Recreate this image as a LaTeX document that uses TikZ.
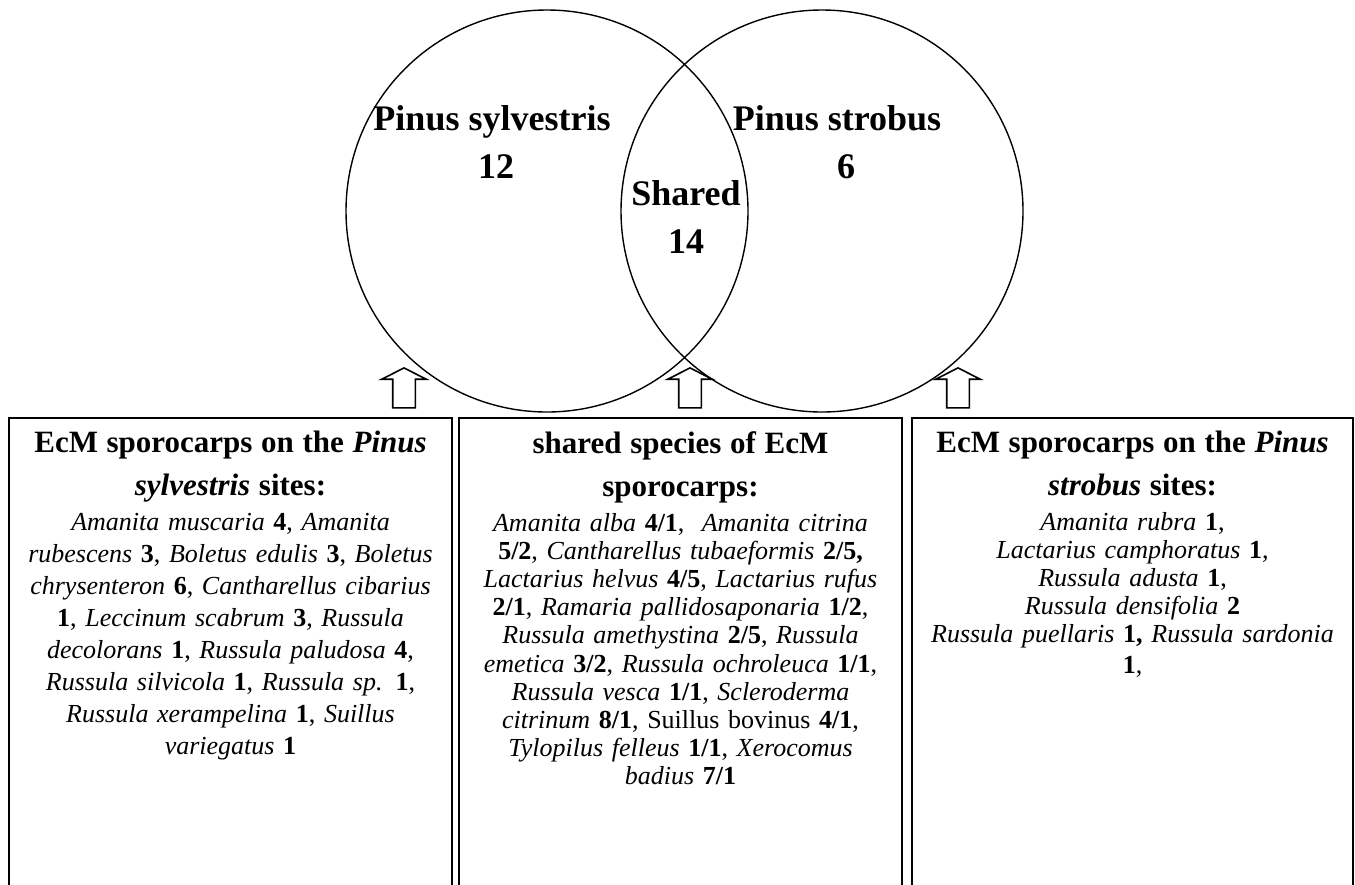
\documentclass[tikz,border=0pt]{standalone}
\usepackage{fontspec}
\setmainfont{Liberation Serif}
\usetikzlibrary{positioning,shapes.arrows}

\tikzset{
  venn/.style={draw, circle, minimum size=402pt, line width=1.4pt},
  vlabel/.style={font=\fontsize{36}{36}\selectfont\bfseries, inner sep=0pt, anchor=base},
  listbox/.style={draw, line width=1.6pt, anchor=north, minimum height=520pt, inner sep=0pt},
  listtext/.style={inner sep=0pt, align=center, text width=430pt, anchor=north},
  uparrow/.style={draw, single arrow, shape border rotate=90, line width=1.6pt,
    minimum height=40pt, minimum width=43pt, single arrow head extend=11pt,
    single arrow tip angle=126, inner sep=10.5pt, anchor=tip},
}

\begin{document}
\begin{tikzpicture}[x=1pt,y=-1pt]
    \useasboundingbox (0,0) rectangle (1355,884);
    \clip (0,0) rectangle (1355,884);

    % venn circles
    \node[venn] (sylv) at (547,211) {};
    \node[venn] (strob) at (822,211) {};

    \node[vlabel] (sylvname) at (492,130) {Pinus sylvestris};
    \node[vlabel] (sylvnum) at (496,178) {12};
    \node[vlabel] (sharedname) at (686,205) {Shared};
    \node[vlabel] (sharednum) at (686,253) {14};
    \node[vlabel] (strobname) at (837,130) {Pinus strobus};
    \node[vlabel] (strobnum) at (846,178) {6};

    % boxes below
    \node[listbox, minimum width=443pt] (boxsylv) at (230.5,417) {};
    \node[listbox, minimum width=443pt] (boxshared) at (680.5,417) {};
    \node[listbox, minimum width=441pt] (boxstrob) at (1132.5,417) {};

    \node[listtext, font=\fontsize{26}{32}\selectfont, below=14pt of boxsylv.north] (txtsylv) {%
      {\fontsize{31}{43}\selectfont\bfseries EcM sporocarps on the \textit{Pinus}\\\textit{sylvestris} sites:\par}
      \vspace{3pt}
      \textit{Amanita muscaria} \textbf{4}, \textit{Amanita}\\
      \textit{rubescens} \textbf{3}, \textit{Boletus edulis} \textbf{3}, \textit{Boletus}\\
      \textit{chrysenteron} \textbf{6}, \textit{Cantharellus cibarius}\\
      \textbf{1}, \textit{Leccinum scabrum} \textbf{3}, \textit{Russula}\\
      \textit{decolorans} \textbf{1}, \textit{Russula paludosa} \textbf{4},\\
      \textit{Russula silvicola} \textbf{1}, \textit{Russula sp.} \textbf{1},\\
      \textit{Russula xerampelina} \textbf{1}, \textit{Suillus}\\
      \textit{variegatus} \textbf{1}};

    \node[listtext, font=\fontsize{26}{28.2}\selectfont, below=14pt of boxshared.north] (txtshared) {%
      {\fontsize{31}{43}\selectfont\bfseries shared species of EcM\\sporocarps:\par}
      \vspace{6.8pt}
      \textit{Amanita alba} \textbf{4/1},\ \ \textit{Amanita citrina}\\
      \textbf{5/2}, \textit{Cantharellus tubaeformis} \textbf{2/5,}\\
      \textit{Lactarius helvus} \textbf{4/5}, \textit{Lactarius rufus}\\
      \textbf{2/1}, \textit{Ramaria pallidosaponaria} \textbf{1/2},\\
      \textit{Russula amethystina} \textbf{2/5}, \textit{Russula}\\
      \textit{emetica} \textbf{3/2}, \textit{Russula ochroleuca} \textbf{1/1},\\
      \textit{Russula vesca} \textbf{1/1}, \textit{Scleroderma}\\
      \textit{citrinum} \textbf{8/1}, Suillus bovinus \textbf{4/1},\\
      \textit{Tylopilus felleus} \textbf{1/1}, \textit{Xerocomus}\\
      \textit{badius} \textbf{7/1}};

    \node[listtext, font=\fontsize{26}{28}\selectfont, below=14pt of boxstrob.north] (txtstrob) {%
      {\fontsize{31}{43}\selectfont\bfseries EcM sporocarps on the \textit{Pinus}\\\textit{strobus} sites:\par}
      \vspace{7pt}
      \textit{Amanita rubra} \textbf{1},\\
      \textit{Lactarius camphoratus} \textbf{1},\\
      \textit{Russula adusta} \textbf{1},\\
      \textit{Russula densifolia} \textbf{2}\\
      \textit{Russula puellaris} \textbf{1,} \textit{Russula sardonia}\\[3pt]
      \textbf{1},};

    % block arrows up to the circles
    \node[uparrow] (arrsylv) at (404,367) {};
    \node[uparrow] (arrshared) at (690,367) {};
    \node[uparrow] (arrstrob) at (958,367) {};
\end{tikzpicture}
\end{document}
